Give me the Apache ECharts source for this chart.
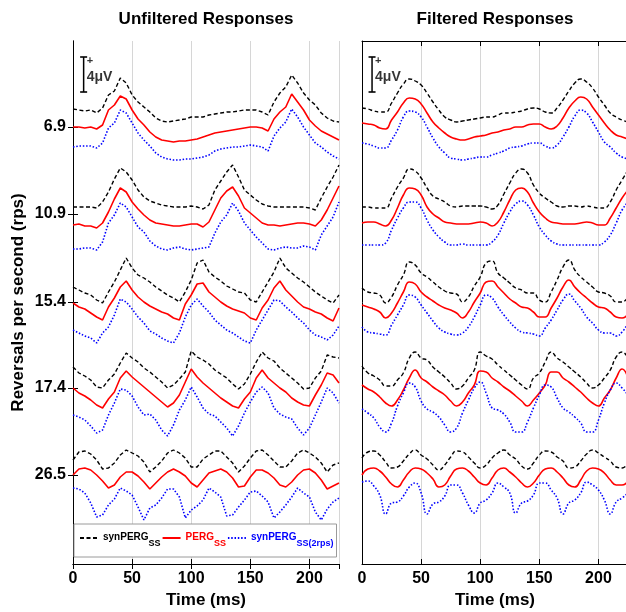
<!DOCTYPE html>
<html>
<head>
<meta charset="utf-8">
<script src="https://cdn.jsdelivr.net/npm/echarts@6/dist/echarts.min.js"></script>
<style>
    html, body { margin: 0; padding: 0; background: #fff; }
    #chart { width: 626px; height: 612px; }
</style>
</head>
<body>
<div id="chart"></div>
<script>
// Sampling times (ms) shared by every trace
const timeMs = [0, 5, 10, 15, 20, 25, 30, 35, 40, 45, 50, 55, 60, 65, 70, 75, 80, 85, 90, 95,
    100, 105, 110, 115, 120, 125, 130, 135, 140, 145, 150, 155, 160, 165, 170, 175, 180, 185, 190, 195,
    200, 205, 210, 215, 220, 225];

// Stimulation rates and the vertical level of each rate row
const rateLabels = ['6.9', '10.9', '15.4', '17.4', '26.5'];
const rateLevels = [437, 350, 262, 176, 89];

// Traces in stacked amplitude units (35 units = 4 µV)
const unf69Black = [455, 454, 453, 454, 451, 456, 469, 473, 486, 481, 469, 462, 457, 452, 446, 443, 442, 443, 444, 445, 447, 447, 447, 449, 450, 451, 452, 452, 453, 454, 454, 454, 452, 449, 462, 471, 477, 489, 481, 471, 464, 459, 451, 446, 443, 442];
const unf69Red = [437, 437, 436, 437, 435, 439, 454, 459, 468, 465, 454, 445, 439, 432, 427, 424, 423, 422, 423, 423, 424, 425, 427, 429, 431, 432, 433, 434, 435, 436, 437, 437, 436, 433, 445, 452, 457, 470, 462, 454, 444, 438, 433, 430, 427, 424];
const unf69Blue = [417, 418, 418, 418, 416, 421, 436, 441, 454, 451, 441, 431, 424, 418, 411, 407, 405, 404, 404, 405, 405, 406, 407, 409, 413, 415, 416, 417, 417, 418, 419, 418, 417, 413, 428, 436, 442, 455, 447, 437, 429, 421, 417, 412, 408, 405];
const unf109Black = [357, 357, 357, 357, 356, 362, 372, 385, 396, 392, 384, 374, 367, 363, 361, 359, 358, 357, 357, 357, 358, 357, 355, 359, 374, 383, 392, 399, 387, 374, 369, 364, 360, 358, 357, 357, 357, 357, 357, 357, 356, 354, 366, 377, 387, 399];
const unf109Red = [339, 340, 338, 338, 336, 341, 352, 365, 376, 372, 362, 355, 349, 344, 341, 340, 339, 338, 338, 339, 340, 340, 337, 342, 354, 366, 373, 377, 368, 356, 351, 346, 341, 339, 339, 338, 339, 340, 341, 341, 340, 338, 344, 354, 366, 378];
const unf109Blue = [315, 315, 316, 316, 314, 322, 341, 349, 361, 357, 347, 337, 332, 323, 318, 315, 314, 316, 317, 315, 314, 315, 316, 317, 331, 342, 349, 361, 353, 341, 334, 327, 321, 315, 314, 316, 317, 316, 316, 318, 317, 314, 329, 338, 347, 362];
const unf154Black = [277, 274, 271, 269, 264, 261, 272, 282, 294, 306, 296, 289, 286, 282, 277, 273, 269, 266, 262, 272, 284, 301, 304, 292, 287, 283, 278, 275, 272, 271, 264, 262, 272, 282, 292, 306, 296, 291, 286, 282, 277, 272, 268, 264, 261, 269];
const unf154Red = [261, 257, 255, 251, 247, 244, 257, 266, 277, 283, 274, 267, 262, 258, 255, 252, 250, 246, 244, 260, 269, 280, 281, 272, 267, 262, 258, 255, 253, 251, 246, 244, 256, 264, 276, 283, 274, 268, 262, 257, 255, 252, 250, 246, 243, 256];
const unf154Blue = [234, 231, 228, 226, 221, 231, 237, 249, 265, 262, 255, 247, 241, 233, 230, 226, 223, 221, 231, 247, 259, 265, 258, 252, 244, 239, 234, 231, 227, 223, 221, 234, 244, 254, 264, 263, 257, 252, 246, 241, 234, 229, 227, 224, 229, 238];
const unf174Black = [197, 191, 188, 184, 177, 176, 184, 190, 201, 211, 206, 202, 196, 192, 187, 182, 176, 179, 185, 192, 213, 207, 204, 200, 194, 190, 186, 180, 175, 180, 190, 202, 212, 206, 203, 196, 191, 186, 181, 175, 176, 186, 193, 209, 207, 206];
const unf174Red = [176, 171, 168, 164, 159, 156, 165, 172, 186, 193, 187, 182, 177, 172, 167, 162, 157, 161, 169, 182, 195, 187, 181, 176, 171, 166, 162, 158, 156, 165, 172, 186, 194, 186, 181, 176, 172, 166, 162, 159, 158, 169, 179, 191, 189, 181];
const unf174Blue = [149, 147, 144, 138, 131, 134, 149, 161, 175, 174, 168, 157, 149, 150, 144, 134, 128, 139, 154, 164, 177, 167, 156, 150, 148, 142, 136, 128, 138, 151, 162, 172, 177, 171, 156, 150, 147, 145, 136, 129, 136, 149, 162, 176, 171, 161];
const unf265Black = [104, 112, 113, 110, 104, 95, 96, 101, 109, 114, 111, 108, 102, 92, 97, 103, 111, 114, 111, 106, 97, 97, 105, 109, 113, 113, 107, 101, 92, 98, 106, 113, 114, 109, 103, 97, 97, 103, 111, 114, 111, 107, 101, 92, 99, 101];
const unf265Red = [89, 95, 96, 94, 89, 83, 76, 79, 87, 92, 92, 88, 82, 75, 81, 87, 92, 95, 92, 88, 81, 77, 84, 91, 93, 95, 92, 86, 77, 78, 87, 94, 94, 91, 86, 79, 77, 82, 89, 94, 95, 91, 84, 75, 78, 81];
const unf265Blue = [76, 75, 71, 61, 47, 49, 59, 65, 76, 73, 69, 57, 44, 56, 59, 66, 75, 75, 67, 46, 54, 58, 64, 76, 72, 67, 48, 49, 57, 64, 72, 73, 68, 62, 46, 52, 59, 67, 76, 71, 67, 52, 44, 55, 62, 66];

const fil69Black = [456, 455, 453, 452, 452, 461, 471, 480, 485, 483, 479, 471, 462, 454, 447, 444, 442, 443, 444, 445, 446, 447, 447, 449, 451, 451, 452, 453, 455, 456, 455, 452, 451, 456, 464, 473, 481, 485, 482, 476, 467, 459, 451, 447, 444, 442];
const fil69Red = [441, 440, 439, 436, 435, 444, 452, 461, 466, 465, 460, 451, 442, 436, 431, 427, 425, 424, 425, 427, 428, 429, 431, 432, 434, 435, 437, 437, 439, 440, 440, 437, 435, 438, 446, 456, 463, 467, 465, 457, 449, 441, 434, 429, 427, 425];
const fil69Blue = [421, 420, 418, 416, 416, 424, 434, 447, 453, 452, 447, 437, 426, 417, 411, 406, 405, 404, 405, 406, 407, 407, 409, 411, 413, 416, 417, 418, 420, 421, 421, 418, 416, 419, 427, 437, 448, 454, 451, 442, 432, 422, 417, 411, 407, 405];
const fil109Black = [357, 357, 356, 356, 356, 366, 377, 386, 395, 393, 386, 376, 368, 365, 362, 358, 357, 358, 358, 358, 358, 357, 355, 359, 370, 381, 391, 395, 391, 379, 371, 366, 362, 358, 357, 358, 358, 357, 358, 357, 356, 356, 362, 374, 384, 394];
const fil109Red = [341, 342, 342, 340, 338, 344, 356, 369, 376, 375, 369, 357, 350, 346, 342, 341, 340, 340, 340, 341, 342, 341, 338, 342, 352, 364, 374, 376, 372, 361, 352, 346, 342, 341, 340, 340, 340, 341, 342, 341, 339, 339, 346, 356, 366, 374];
const fil109Blue = [319, 319, 319, 319, 321, 334, 346, 356, 362, 362, 356, 344, 334, 327, 322, 319, 319, 320, 319, 319, 319, 319, 322, 329, 341, 352, 360, 363, 359, 349, 337, 329, 323, 320, 319, 319, 319, 319, 319, 319, 319, 322, 329, 341, 354, 362];
const fil154Black = [276, 272, 271, 269, 261, 267, 279, 289, 302, 299, 291, 287, 282, 277, 273, 271, 270, 262, 267, 278, 287, 301, 303, 291, 286, 281, 276, 274, 271, 271, 264, 262, 272, 284, 297, 304, 294, 287, 282, 277, 272, 271, 268, 262, 262, 267];
const fil154Red = [259, 257, 255, 252, 246, 251, 261, 272, 282, 280, 272, 267, 263, 259, 256, 254, 251, 246, 252, 262, 271, 282, 283, 277, 271, 265, 261, 257, 256, 252, 247, 247, 256, 266, 277, 284, 277, 271, 266, 261, 257, 256, 252, 247, 246, 250];
const fil154Blue = [237, 232, 231, 230, 229, 239, 249, 259, 269, 267, 259, 251, 243, 236, 232, 230, 229, 231, 237, 247, 259, 269, 266, 257, 249, 242, 236, 232, 231, 230, 228, 236, 244, 254, 264, 270, 263, 256, 247, 241, 234, 231, 231, 228, 232, 241];
const fil174Black = [198, 191, 188, 184, 178, 178, 184, 191, 206, 212, 206, 204, 197, 192, 187, 181, 175, 178, 186, 194, 212, 208, 205, 199, 194, 189, 184, 179, 175, 186, 191, 202, 212, 206, 202, 197, 192, 187, 181, 176, 179, 186, 194, 207, 212, 206];
const fil174Red = [179, 175, 172, 167, 161, 158, 164, 174, 186, 194, 186, 182, 177, 173, 169, 163, 158, 162, 171, 179, 193, 192, 186, 182, 177, 173, 168, 163, 158, 164, 171, 179, 192, 192, 186, 182, 177, 172, 166, 161, 158, 166, 174, 186, 195, 186];
const fil174Blue = [155, 151, 146, 137, 132, 141, 158, 171, 181, 177, 163, 155, 152, 147, 139, 132, 136, 151, 164, 176, 182, 171, 156, 154, 150, 142, 132, 132, 142, 156, 169, 179, 177, 166, 156, 152, 147, 141, 132, 132, 144, 161, 174, 181, 176, 169];
const fil265Black = [106, 112, 113, 109, 102, 96, 97, 103, 110, 114, 109, 105, 99, 94, 99, 107, 113, 112, 107, 101, 96, 99, 106, 111, 114, 109, 105, 98, 95, 101, 109, 113, 112, 107, 103, 96, 97, 103, 110, 114, 111, 107, 103, 97, 96, 101];
const fil265Red = [89, 95, 96, 93, 87, 80, 77, 84, 92, 96, 95, 91, 85, 77, 79, 88, 95, 96, 93, 87, 81, 79, 86, 94, 96, 92, 87, 81, 77, 81, 89, 95, 96, 92, 86, 79, 77, 84, 93, 96, 95, 91, 84, 79, 79, 83];
const fil265Blue = [82, 83, 78, 69, 50, 61, 62, 68, 77, 81, 71, 50, 60, 62, 68, 79, 79, 71, 59, 51, 61, 64, 71, 81, 77, 71, 51, 61, 63, 69, 81, 81, 74, 66, 50, 61, 64, 71, 82, 79, 74, 64, 50, 62, 66, 71];

// 4 µV calibration bar, one per panel: [time ms, low level, high level]
const scaleBarLeft = [9, 472, 507];
const scaleBarRight = [8.5, 472, 507];

const FONT = '"Liberation Sans", Arial, Helvetica, sans-serif';
const TRACE_STYLES = [
    { name: 'synPERG_SS', color: '#000000', width: 1.4, dash: [4, 2.5] },
    { name: 'PERG_SS', color: '#ff0000', width: 1.6, dash: 'solid' },
    { name: 'synPERG_SS(2rps)', color: '#0000ff', width: 1.6, dash: [1.5, 1.8] }
];

const unfilteredRows = [
    [unf69Black, unf69Red, unf69Blue],
    [unf109Black, unf109Red, unf109Blue],
    [unf154Black, unf154Red, unf154Blue],
    [unf174Black, unf174Red, unf174Blue],
    [unf265Black, unf265Red, unf265Blue]
];
const filteredRows = [
    [fil69Black, fil69Red, fil69Blue],
    [fil109Black, fil109Red, fil109Blue],
    [fil154Black, fil154Red, fil154Blue],
    [fil174Black, fil174Red, fil174Blue],
    [fil265Black, fil265Red, fil265Blue]
];

const pairs = vals => timeMs.map((t, i) => [t, vals[i]]);

function panelSeries(rows, xAxisIndex, yAxisIndex, smooth) {
    const out = [];
    rows.forEach(row => {
        row.forEach((vals, k) => {
            const st = TRACE_STYLES[k];
            out.push({
                type: 'line',
                name: st.name,
                xAxisIndex,
                yAxisIndex,
                data: pairs(vals),
                smooth,
                symbol: 'none',
                silent: true,
                animation: false,
                lineStyle: { color: st.color, width: st.width, type: st.dash },
                itemStyle: { color: st.color }
            });
        });
    });
    return out;
}

function scaleBarSeries(bar, xAxisIndex, yAxisIndex) {
    const [x, lo, hi] = bar;
    return [{
        type: 'line',
        xAxisIndex,
        yAxisIndex,
        data: [[x, lo], [x, hi]],
        symbol: 'rect',
        symbolSize: [7, 1.6],
        silent: true,
        animation: false,
        lineStyle: { color: '#000', width: 1.5 },
        itemStyle: { color: '#000' }
    }, {
        type: 'scatter',
        xAxisIndex,
        yAxisIndex,
        symbolSize: 0,
        silent: true,
        animation: false,
        data: [
            { value: [x, hi], label: { formatter: '+', offset: [0, 4], fontSize: 11 } },
            { value: [x, (lo + hi) / 2 - 3], label: { formatter: '4μV', fontSize: 14 } }
        ],
        label: {
            show: true, position: 'right', distance: 3,
            color: '#000', fontWeight: 'bold', fontFamily: FONT
        }
    }];
}

const tickLabelStyle = { color: '#000', fontSize: 16, fontWeight: 'bold', fontFamily: FONT };
const nameStyle = { color: '#000', fontSize: 17, fontWeight: 'bold', fontFamily: FONT };
const blackLine = { show: true, lineStyle: { color: '#000', width: 1 } };

function bottomAxis(gridIndex) {
    return {
        type: 'value', gridIndex, position: 'bottom',
        min: 0, max: 225, interval: 50,
        axisLine: blackLine,
        axisTick: { show: true, inside: true, length: 5, lineStyle: { color: '#000' } },
        axisLabel: { ...tickLabelStyle, margin: 7, showMaxLabel: false },
        splitLine: { show: true, lineStyle: { color: '#d6d6d6', width: 1 } },
        name: 'Time (ms)', nameLocation: 'middle', nameGap: 28, nameTextStyle: nameStyle
    };
}

function topAxis(gridIndex) {
    return {
        type: 'value', gridIndex, position: 'top',
        min: 0, max: 225, interval: 50,
        axisLine: blackLine,
        axisTick: { show: true, inside: true, length: 5, lineStyle: { color: '#000' } },
        axisLabel: { show: false },
        splitLine: { show: false }
    };
}

const legendRich = {
    k: { color: '#000', fontSize: 10, fontWeight: 'bold', fontFamily: FONT, verticalAlign: 'top', lineHeight: 12 },
    ks: { color: '#000', fontSize: 9, fontWeight: 'bold', fontFamily: FONT, verticalAlign: 'top', lineHeight: 9, padding: [7, 0, 0, 0] },
    r: { color: '#ff0000', fontSize: 10, fontWeight: 'bold', fontFamily: FONT, verticalAlign: 'top', lineHeight: 12 },
    rs: { color: '#ff0000', fontSize: 9, fontWeight: 'bold', fontFamily: FONT, verticalAlign: 'top', lineHeight: 9, padding: [7, 0, 0, 0] },
    b: { color: '#0000ff', fontSize: 10, fontWeight: 'bold', fontFamily: FONT, verticalAlign: 'top', lineHeight: 12 },
    bs: { color: '#0000ff', fontSize: 9, fontWeight: 'bold', fontFamily: FONT, verticalAlign: 'top', lineHeight: 9, padding: [7, 0, 0, 0] }
};

function legendLabel(name) {
    if (name === 'synPERG_SS') return '{k|synPERG}{ks|SS}';
    if (name === 'PERG_SS') return '{r|PERG}{rs|SS}';
    return '{b|synPERG}{bs|SS(2rps)}';
}

const chart = echarts.init(document.getElementById('chart'), null, { renderer: 'canvas' });
chart.setOption({
    animation: false,
    backgroundColor: '#fff',
    textStyle: { fontFamily: FONT },
    title: [
        { text: 'Unfiltered Responses', left: 206, top: 11, padding: 0, textAlign: 'center', textStyle: { ...nameStyle } },
        { text: 'Filtered Responses', left: 495, top: 11, padding: 0, textAlign: 'center', textStyle: { ...nameStyle } }
    ],
    grid: [
        { left: 73, top: 41, width: 266, height: 523, containLabel: false, outerBoundsMode: 'none' },
        { left: 362, top: 41, width: 266, height: 523, containLabel: false, outerBoundsMode: 'none' }
    ],
    xAxis: [bottomAxis(0), topAxis(0), bottomAxis(1), topAxis(1)],
    yAxis: [
        {
            type: 'value', gridIndex: 0, position: 'left', min: 0, max: 523,
            axisLine: blackLine,
            axisTick: { show: true, inside: true, length: 5, customValues: rateLevels, lineStyle: { color: '#000' } },
            axisLabel: {
                ...tickLabelStyle, margin: 7, customValues: rateLevels,
                formatter: v => rateLabels[rateLevels.indexOf(v)] || ''
            },
            splitLine: { show: false },
            name: 'Reversals per second (rps)', nameLocation: 'middle', nameGap: 46,
            nameTextStyle: { ...nameStyle, fontSize: 17 }
        },
        {
            type: 'value', gridIndex: 0, position: 'right', min: 0, max: 523,
            axisLine: blackLine,
            axisTick: { show: true, inside: true, length: 5, customValues: rateLevels, lineStyle: { color: '#000' } },
            axisLabel: { show: false },
            splitLine: { show: false }
        },
        {
            type: 'value', gridIndex: 1, position: 'left', min: 0, max: 523,
            axisLine: blackLine,
            axisTick: { show: false },
            axisLabel: { show: false },
            splitLine: { show: false }
        }
    ],
    legend: {
        left: 74, top: 524,
        orient: 'horizontal',
        selectedMode: false,
        itemWidth: 18, itemHeight: 10, itemGap: 1,
        padding: [8, 3, 9, 5],
        backgroundColor: '#fff',
        borderColor: '#9a9a9a', borderWidth: 1, borderRadius: 0,
        itemStyle: { color: 'rgba(0,0,0,0)', borderColor: 'rgba(0,0,0,0)', borderWidth: 0 },
        data: TRACE_STYLES.map(s => s.name),
        formatter: legendLabel,
        textStyle: { fontFamily: FONT, fontWeight: 'bold', rich: legendRich }
    },
    series: [
        ...panelSeries(unfilteredRows, 0, 0, false),
        ...panelSeries(filteredRows, 2, 2, true),
        ...scaleBarSeries(scaleBarLeft, 0, 0),
        ...scaleBarSeries(scaleBarRight, 2, 2)
    ]
});
</script>
</body>
</html>
